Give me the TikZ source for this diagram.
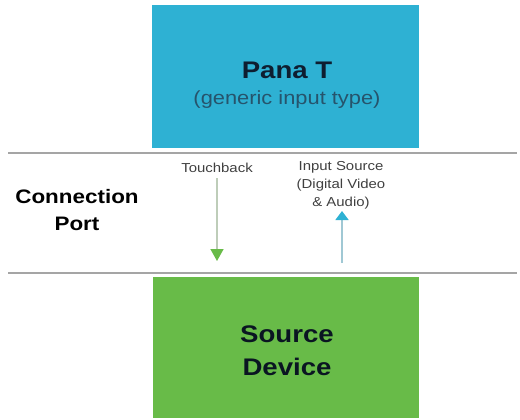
\documentclass[tikz,border=0pt]{standalone}
\usepackage{fontspec}
\setmainfont{Liberation Sans}
\newfontfamily\widefont[FakeStretch=1.15]{Liberation Sans}
\usetikzlibrary{arrows.meta}

\definecolor{panablue}{RGB}{46,177,211}
\definecolor{srcgreen}{RGB}{104,187,72}
\definecolor{titleink}{RGB}{14,30,48}
\definecolor{subink}{RGB}{38,84,108}
\definecolor{rulegray}{RGB}{165,165,165}
\definecolor{tbshaft}{RGB}{190,205,185}
\definecolor{inshaft}{RGB}{160,200,212}

\tikzset{
  box/.style={draw=none, inner sep=0pt, anchor=north west},
  sepline/.style={rulegray, line width=1.6pt},
  bigtitle/.style={anchor=base, inner sep=0pt, font=\widefont\bfseries\fontsize{24}{28}\selectfont},
  smalltext/.style={font=\widefont\fontsize{13}{18}\selectfont, align=center, inner sep=0pt}
}

\begin{document}
\begin{tikzpicture}[x=1pt,y=-1pt]
            \useasboundingbox (0,0) rectangle (520,420);

            % Draw the two boxes
            \node[box, fill=panablue, minimum width=267pt, minimum height=143pt] (pana) at (152,5) {};
            \node[box, fill=srcgreen, minimum width=266pt, minimum height=141pt] (source) at (153,277) {};

            % Draw the port band
            \draw[sepline] (8,153) -- (517,153);
            \draw[sepline] (8,273) -- (517,273);

            % Box texts
            \node[bigtitle, text=titleink] (panatitle) at (287,79) {Pana T};
            \node[anchor=base, inner sep=0pt, text=subink, font=\widefont\fontsize{19}{22}\selectfont] (panasub) at (287,105) {(generic input type)};

            \node[bigtitle, text=titleink!70!black] (srcline1) at (287,342) {Source};
            \node[bigtitle, text=titleink!70!black] (srcline2) at (287,375) {Device};

            \node[anchor=base, inner sep=0pt, font=\widefont\bfseries\fontsize{19.5}{24}\selectfont] (conn1) at (77,203) {Connection};
            \node[anchor=base, inner sep=0pt, font=\widefont\bfseries\fontsize{19.5}{24}\selectfont] (conn2) at (77,230) {Port};

            % Port signals
            \node[smalltext, anchor=base, text=black!75] (touchback) at (217,172) {Touchback};
            \node[smalltext, anchor=north, text=black!75] (inputsrc) at (341,161) {Input Source\\(Digital Video\\\& Audio)};

            \coordinate (tbstart) at (217,178);
            \coordinate (tbend) at (217,261);
            \draw[tbshaft, line width=1.5pt, -{Triangle[width=13pt,length=12pt,color=srcgreen]}] (tbstart) -- (tbend);

            \coordinate (instart) at (342,263);
            \coordinate (inend) at (342,211);
            \draw[inshaft, line width=1.5pt, -{Triangle[width=13pt,length=9pt,color=panablue]}] (instart) -- (inend);

        \end{tikzpicture}
\end{document}
